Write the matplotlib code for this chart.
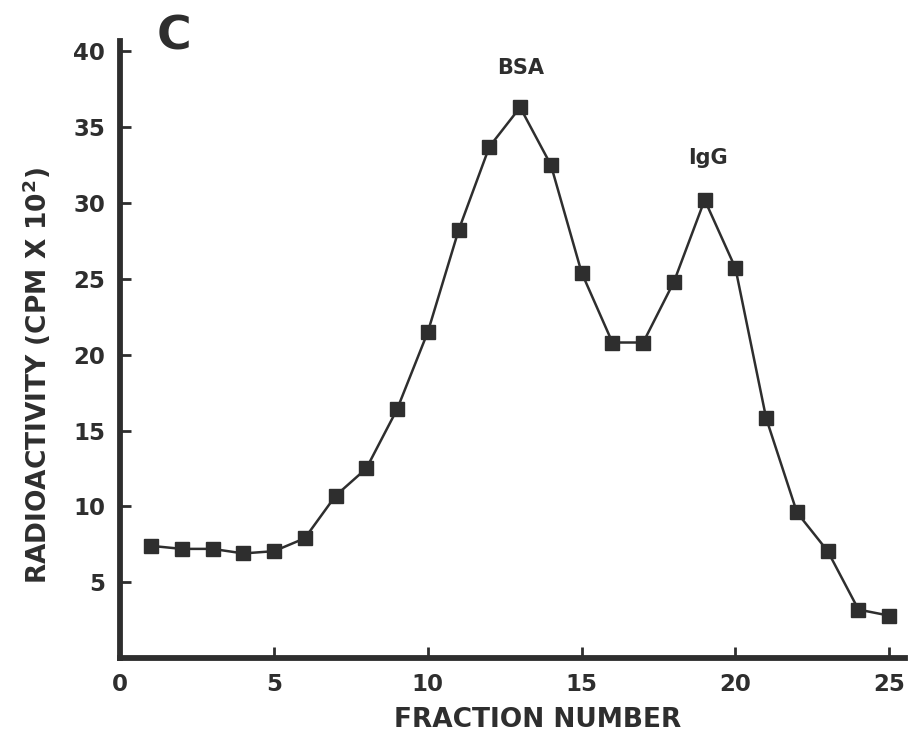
import matplotlib
matplotlib.use("Agg")
import matplotlib.pyplot as plt

# Fraction number vs radioactivity (CPM x 10^2)
fractions = list(range(1, 26))
cpm = [7.4, 7.2, 7.2, 6.9, 7.05, 7.9, 10.7, 12.5, 16.4, 21.5,
       28.2, 33.7, 36.3, 32.5, 25.4, 20.8, 20.8, 24.8, 30.2, 25.7,
       15.8, 9.6, 7.05, 3.2, 2.8]
x_ticks = [0, 5, 10, 15, 20, 25]
y_ticks = [5, 10, 15, 20, 25, 30, 35, 40]

INK = "#2e2e2e"
FONT = "DejaVu Sans"

fig = plt.figure(figsize=(9.11, 7.37), dpi=100)
ax = fig.add_axes([0.132, 0.107, 0.861, 0.838])

ax.plot(fractions, cpm, color=INK, linewidth=1.8, marker="s",
        markersize=9.5, markerfacecolor=INK, markeredgecolor=INK,
        clip_on=False)

ax.set_xlim(0, 25.5)
ax.set_ylim(0, 40.7)
ax.set_xticks(x_ticks)
ax.set_yticks(y_ticks)

for side in ("top", "right"):
    ax.spines[side].set_visible(False)
for side in ("left", "bottom"):
    ax.spines[side].set_linewidth(4.2)
    ax.spines[side].set_color(INK)

ax.tick_params(direction="in", length=8, width=2, color=INK, pad=11,
               labelsize=16.5, labelcolor=INK)
for lbl in ax.get_xticklabels() + ax.get_yticklabels():
    lbl.set_fontweight("bold")
    lbl.set_family(FONT)

# axis titles placed where they sit on the original page
fig.text(0.59, 0.023, "FRACTION NUMBER", fontsize=19, fontweight="bold",
         family=FONT, color=INK, ha="center", va="center")
fig.text(0.040, 0.49, "RADIOACTIVITY (CPM X 10$^{\\mathbf{2}}$)", fontsize=19,
         fontweight="bold", family=FONT, color=INK, ha="center",
         va="center", rotation=90)

fig.text(0.191, 0.98, "C", fontsize=34, fontweight="bold", family=FONT,
         color=INK, ha="center", va="top")
ax.annotate("BSA", xy=(13, 36.3), xytext=(0, 28), textcoords="offset points",
            ha="center", va="center", fontsize=15, fontweight="bold",
            family=FONT, color=INK)
ax.annotate("IgG", xy=(19, 30.2), xytext=(2, 30), textcoords="offset points",
            ha="center", va="center", fontsize=15, fontweight="bold",
            family=FONT, color=INK)

fig.savefig("out.png", dpi=100, facecolor="white")
